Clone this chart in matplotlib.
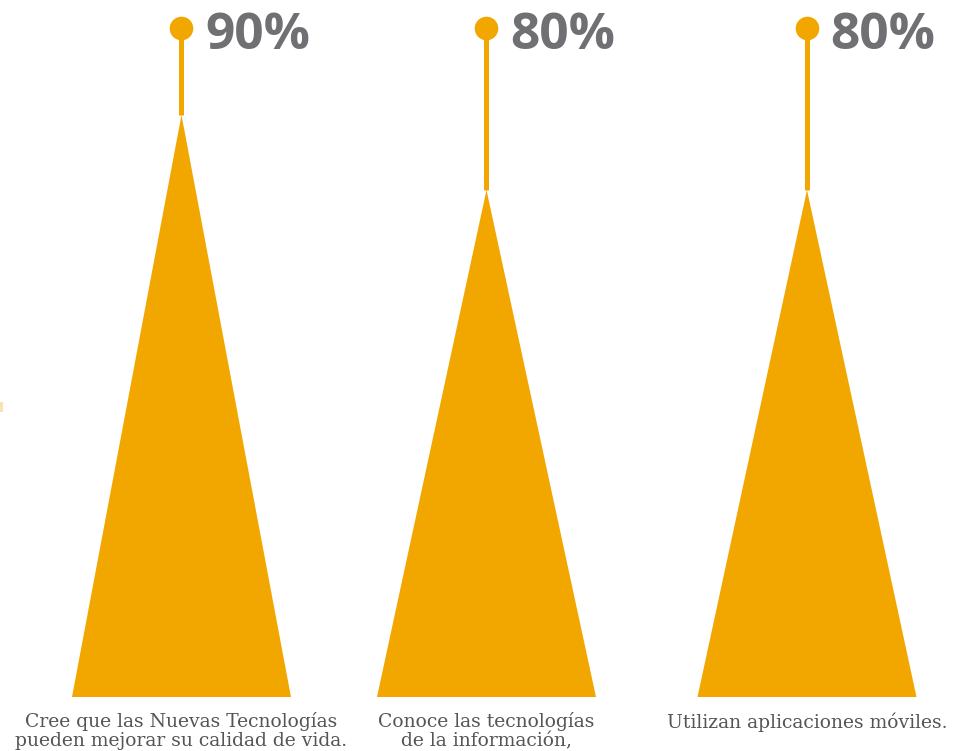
import matplotlib.pyplot as plt
from matplotlib.patches import Polygon, Rectangle
from matplotlib.transforms import blended_transform_factory

# data
categories = ["Cree que las Nuevas Tecnologías\npueden mejorar su calidad de vida.",
              "Conoce las tecnologías\nde la información,",
              "Utilizan aplicaciones móviles."]
values = [90, 80, 80]
value_labels = ["90%", "80%", "80%"]

orange = "#F2A600"
grey = "#707074"
text_grey = "#555555"

W, H = 962, 751
fig = plt.figure(figsize=(W / 100, H / 100), dpi=100)

# layout: column centres in pixels, axes from the triangle bases (697px) to the dots (28px)
xpos = [181.5, 486.5, 807.0]
half = 109.5
ax = fig.add_axes([0, 1 - 697 / H, 1, (697 - 28) / H])
ax.set_xlim(0, W)
ax.set_ylim(12.4, 101.6)
ax.axis("off")

ymin, ytop = ax.get_ylim()
label_tr = blended_transform_factory(ax.transData, fig.transFigure)

for x, v, lab, cat in zip(xpos, values, value_labels, categories):
    ax.add_patch(Polygon([(x - half, ymin), (x, v), (x + half, ymin)], closed=True,
                         facecolor=orange, edgecolor="none", clip_on=False))
    ax.plot([x, x], [v, ytop], color=orange, lw=3.6, solid_capstyle="butt",
            clip_on=False)
    ax.plot([x], [ytop], "o", ms=17, color=orange, mec="none", clip_on=False)
    ax.annotate(lab, xy=(x, ytop), xytext=(17, -6),
                textcoords="offset points", ha="left", va="center",
                fontsize=37, fontweight="bold", family="Open Sans", color=grey,
                annotation_clip=False)
    ax.text(x, 1 - 712 / H, cat, transform=label_tr,
            ha="center", va="top", fontsize=13.5, family="DejaVu Serif",
            color=text_grey, linespacing=1.1)

# faint sliver at the left edge
fig.patches.append(Rectangle((0, 1 - 412 / H), 3 / W, 10 / H, transform=fig.transFigure,
                             facecolor="#FBE1B0", edgecolor="none"))

fig.savefig("out.png", dpi=100)
